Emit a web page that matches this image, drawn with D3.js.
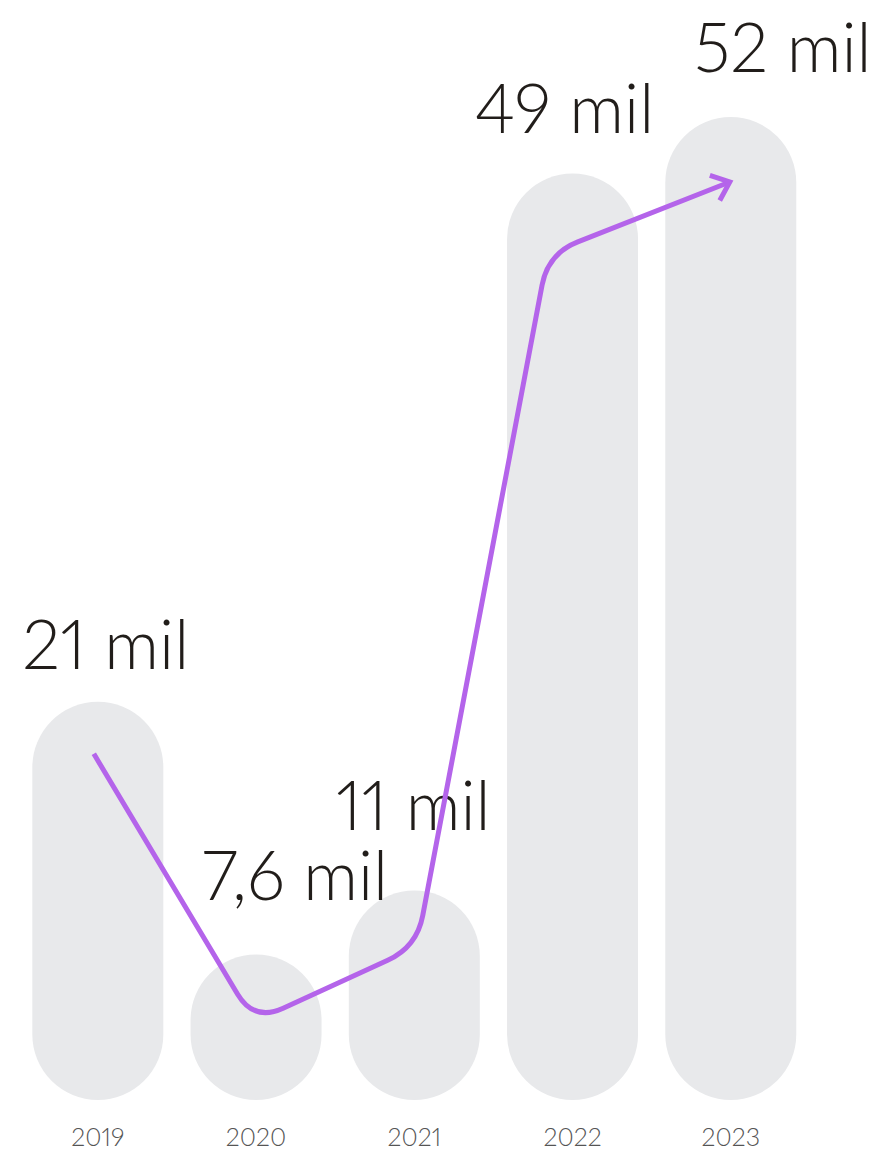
<!DOCTYPE html>
<html>
<head>
<meta charset="utf-8">
<script src="https://cdn.jsdelivr.net/npm/d3@7/dist/d3.min.js"></script>
<style>
  html, body { margin: 0; padding: 0; background: #ffffff; }
  svg { display: block; }
  .vlab, .tick text { font-variant-numeric: proportional-nums; font-feature-settings: "pnum" 1; }
</style>
</head>
<body>
<svg id="chart" width="886" height="1150"></svg>
<script>
// ---- data ----
const years = ["2019", "2020", "2021", "2022", "2023"];
const values = [21, 7.6, 11, 49, 52];            // mil
const valueLabels = ["21 mil", "7,6 mil", "11 mil", "49 mil", "52 mil"];

// ---- layout (not data) ----
const W = 886, H = 1150;
const baseY = 1100;
const labelNudge = [[8, -33], [39, -55], [-1, -60], [-8, -41], [52, -45]];
const lineNudge = [[-4, 52], [-2, 67], [2.5, 56.5], [-24.5, 80], [-1, 65]];
const barColor = "#e8e9eb";
const lineColor = "#b464ea";
const textColor = "#211d1a";

const svg = d3.select("#chart");
svg.append("rect").attr("width", W).attr("height", H).attr("fill", "#fff");

const x = d3.scaleBand()
  .domain(years)
  .range([18.7, 809.9])
  .paddingInner(0.1722)
  .paddingOuter(0.0861);

const y = d3.scaleLinear()
  .domain([0, 52])
  .range([1098, 117]);

const bw = x.bandwidth();

// bars (pills)
svg.append("g").selectAll("rect")
  .data(years)
  .join("rect")
  .attr("x", d => x(d))
  .attr("y", (d, i) => y(values[i]))
  .attr("width", bw)
  .attr("height", (d, i) => baseY - y(values[i]))
  .attr("rx", bw / 2)
  .attr("ry", bw / 2)
  .attr("fill", barColor);

// value labels
svg.append("g").selectAll("text")
  .data(years)
  .join("text")
  .attr("class", "vlab")
  .attr("x", (d, i) => x(d) + bw / 2 + labelNudge[i][0])
  .attr("y", (d, i) => y(values[i]) + labelNudge[i][1])
  .attr("text-anchor", "middle")
  .attr("font-family", "Lato, 'Noto Sans', sans-serif")
  .attr("font-weight", 300)
  .attr("font-size", 68)
  .attr("fill", textColor)
  .text((d, i) => valueLabels[i]);

// trend line with rounded corners
const pts = years.map((d, i) => [x(d) + bw / 2 + lineNudge[i][0], y(values[i]) + lineNudge[i][1]]);

function norm(v) { const l = Math.hypot(v[0], v[1]); return [v[0] / l, v[1] / l]; }

function roundedPath(p, r) {
  const path = d3.path();
  path.moveTo(p[0][0], p[0][1]);
  for (let i = 1; i < p.length - 1; i++) {
    const din = norm([p[i][0] - p[i - 1][0], p[i][1] - p[i - 1][1]]);
    const dout = norm([p[i + 1][0] - p[i][0], p[i + 1][1] - p[i][1]]);
    const a = [p[i][0] - din[0] * r, p[i][1] - din[1] * r];
    const b = [p[i][0] + dout[0] * r, p[i][1] + dout[1] * r];
    path.lineTo(a[0], a[1]);
    path.quadraticCurveTo(p[i][0], p[i][1], b[0], b[1]);
  }
  const last = p[p.length - 1];
  path.lineTo(last[0], last[1]);
  return path.toString();
}

svg.append("path")
  .attr("d", roundedPath(pts, 32))
  .attr("fill", "none")
  .attr("stroke", lineColor)
  .attr("stroke-width", 5)
  .attr("stroke-linejoin", "round");

// arrow head
const tip = pts[pts.length - 1];
const prev = pts[pts.length - 2];
const back = norm([prev[0] - tip[0], prev[1] - tip[1]]);
const ang = 40 * Math.PI / 180, len = 21;
function rot(v, a) { return [v[0] * Math.cos(a) - v[1] * Math.sin(a), v[0] * Math.sin(a) + v[1] * Math.cos(a)]; }
const a1 = rot(back, ang), a2 = rot(back, -ang);
const ah = d3.path();
ah.moveTo(tip[0] + a1[0] * len, tip[1] + a1[1] * len);
ah.lineTo(tip[0], tip[1]);
ah.lineTo(tip[0] + a2[0] * len, tip[1] + a2[1] * len);
svg.append("path")
  .attr("d", ah.toString())
  .attr("fill", "none")
  .attr("stroke", lineColor)
  .attr("stroke-width", 5)
  .attr("stroke-linejoin", "miter")
  .attr("stroke-linecap", "butt");

// x axis labels
const axis = d3.axisBottom(x).tickSize(0).tickPadding(0);
const gx = svg.append("g")
  .attr("transform", `translate(0,${baseY})`)
  .call(axis);
gx.select(".domain").remove();
gx.selectAll("text")
  .attr("y", 45.5)
  .attr("dy", null)
  .attr("font-family", "Lato, 'Noto Sans', sans-serif")
  .attr("font-size", 25)
  .attr("font-weight", 300)
  .attr("fill", "#555555");
</script>
</body>
</html>
